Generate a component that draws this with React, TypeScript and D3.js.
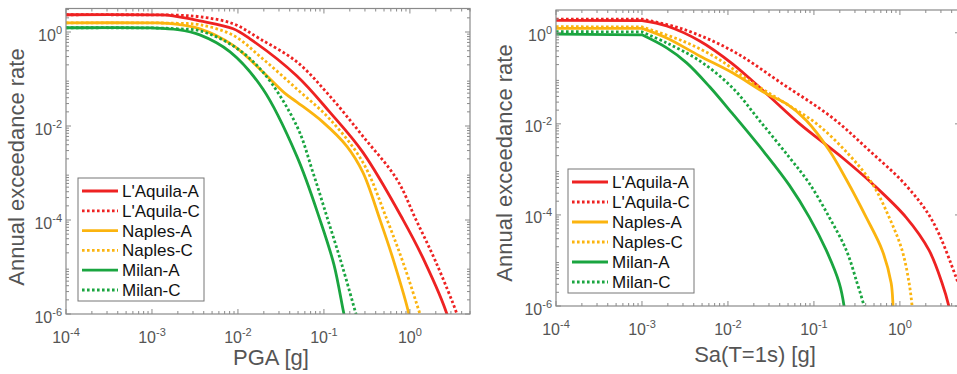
import React from 'react';
import * as d3 from 'd3';

type Pt = [number, number];

// ---------- data ----------
const legendLabels = ["L'Aquila-A", "L'Aquila-C", 'Naples-A', 'Naples-C', 'Milan-A', 'Milan-C'];
const xTickExps = [-4, -3, -2, -1, 0];
const yTickExps = [-6, -4, -2, 0];

// PGA [g] vs annual exceedance rate
const pgaLAquilaA: Pt[] = [[1e-4, 2.33], [1e-3, 2.32], [0.0015, 2.28], [0.0036, 1.73], [0.0088, 1.17], [0.0138, 0.716], [0.0485, 0.116], [0.117, 0.0197], [0.284, 0.00275], [0.83, 0.000102], [1.49, 1.29e-5], [2.69, 1.0e-6], [2.8, 7e-7]];
const pgaLAquilaC: Pt[] = [[1e-4, 2.33], [1e-3, 2.32], [0.002, 2.28], [0.0036, 2.11], [0.0088, 1.5], [0.018, 0.716], [0.0485, 0.231], [0.117, 0.0434], [0.284, 0.00605], [0.706, 0.00073], [1.175, 0.000102], [2.0, 1.29e-5], [3.52, 1.0e-6], [3.7, 7e-7]];
const pgaNaplesA: Pt[] = [[1e-4, 1.57], [1e-3, 1.56], [0.0015, 1.53], [0.0036, 1.17], [0.0088, 0.52], [0.0195, 0.141], [0.035, 0.05], [0.0485, 0.0323], [0.0973, 0.0121], [0.185, 0.0037], [0.284, 0.00103], [0.448, 0.000102], [0.652, 1.29e-5], [0.973, 1.0e-6], [1.0, 7e-7]];
const pgaNaplesC: Pt[] = [[1e-4, 1.57], [1e-3, 1.56], [0.002, 1.53], [0.0036, 1.43], [0.0088, 0.85], [0.0195, 0.267], [0.0485, 0.0611], [0.117, 0.014], [0.284, 0.00168], [0.541, 0.000102], [0.851, 1.11e-5], [1.31, 1.0e-6], [1.4, 7e-7]];
const pgaMilanA: Pt[] = [[1e-4, 1.23], [1e-3, 1.22], [0.002, 1.12], [0.0036, 0.87], [0.0081, 0.378], [0.0195, 0.0611], [0.0485, 0.00226], [0.0898, 0.000102], [0.131, 1.11e-5], [0.171, 1.0e-6], [0.18, 7e-7]];
const pgaMilanC: Pt[] = [[1e-4, 1.23], [1e-3, 1.22], [0.002, 1.17], [0.0036, 1.06], [0.0088, 0.507], [0.0195, 0.141], [0.0485, 0.0099], [0.0745, 0.00103], [0.111, 0.000102], [0.162, 1.11e-5], [0.236, 1.0e-6], [0.25, 7e-7]];

// Sa(T=1s) [g] vs annual exceedance rate
const saLAquilaA: Pt[] = [[1e-4, 1.88], [1e-3, 1.85], [0.00194, 1.41], [0.00469, 0.662], [0.0113, 0.208], [0.0281, 0.0458], [0.0678, 0.0101], [0.213, 0.00182], [0.475, 0.00049], [1.18, 8.85e-5], [2.18, 1.68e-5], [3.09, 3.19e-6], [3.73, 9.5e-7], [3.9, 6e-7]];
const saLAquilaC: Pt[] = [[1e-4, 2.0], [1e-3, 2.0], [0.00297, 1.21], [0.0113, 0.4], [0.043, 0.0758], [0.163, 0.0137], [0.44, 0.0026], [1.18, 0.000444], [2.37, 7.6e-5], [4.49, 4.31e-6], [5.6, 1.2e-6]];
const saNaplesA: Pt[] = [[1e-4, 1.25], [1e-3, 1.25], [0.00194, 0.769], [0.00469, 0.31], [0.0113, 0.132], [0.0281, 0.0458], [0.0479, 0.0277], [0.0817, 0.0118], [0.151, 0.0026], [0.238, 0.0006], [0.406, 8.85e-5], [0.622, 1.68e-5], [0.791, 3.19e-6], [0.834, 9.5e-7], [0.85, 6e-7]];
const saNaplesC: Pt[] = [[1e-4, 1.36], [1e-3, 1.34], [0.00297, 0.662], [0.00738, 0.281], [0.0178, 0.0881], [0.043, 0.031], [0.107, 0.0101], [0.25, 0.0022], [0.475, 0.00049], [0.75, 8.85e-5], [1.06, 1.68e-5], [1.28, 3.19e-6], [1.39, 9.5e-7], [1.42, 6e-7]];
const saMilanA: Pt[] = [[1e-4, 0.93], [1e-3, 0.9], [0.00194, 0.465], [0.00331, 0.218], [0.00612, 0.0652], [0.0113, 0.0167], [0.0266, 0.00234], [0.0519, 0.000445], [0.0885, 8.85e-5], [0.139, 1.68e-5], [0.197, 3.19e-6], [0.225, 9.5e-7], [0.23, 6e-7]];
const saMilanC: Pt[] = [[1e-4, 1.06], [1e-3, 1.04], [0.00194, 0.598], [0.00469, 0.242], [0.0113, 0.062], [0.0233, 0.0118], [0.0519, 0.00182], [0.0885, 0.00049], [0.151, 8.85e-5], [0.238, 1.68e-5], [0.318, 3.19e-6], [0.385, 9.5e-7], [0.4, 6e-7]];

const pgaSeries = [pgaLAquilaA, pgaLAquilaC, pgaNaplesA, pgaNaplesC, pgaMilanA, pgaMilanC];
const saSeries = [saLAquilaA, saLAquilaC, saNaplesA, saNaplesC, saMilanA, saMilanC];

// ---------- styles ----------
const COLORS = ['#ee2222', '#ee2222', '#fbb40f', '#fbb40f', '#1aa540', '#1aa540'];
const DOTTED = [false, true, false, true, false, true];
const FONT = "'Liberation Sans', Arial, Helvetica, sans-serif";
const AXIS_COLOR = '#8a8a8a';
const TEXT_COLOR = '#555555';
const LINE_W = 2.8;
const DOT = '2.6 2.4';
const X_DOMAIN: [number, number] = [1e-4, 5];
const Y_DOMAIN: [number, number] = [1e-6, Math.sqrt(10)];

type PanelProps = {
  id: string;
  x0: number; x1: number; yT: number; yB: number;
  series: Pt[][];
  xTitle: string; xTitleX: number; xTitleY: number;
  yTitleX: number; yTitleY: number;
  legend: { x: number; y: number; w: number; h: number; row0: number; step: number; lx0: number; lx1: number; tx: number };
  cornerAtSecond: boolean;
};

function Panel(p: PanelProps) {
  const xs = d3.scaleLog().domain(X_DOMAIN).range([p.x0, p.x1]);
  const ys = d3.scaleLog().domain(Y_DOMAIN).range([p.yB, p.yT]);
  const line = d3.line<Pt>().x(d => xs(d[0])).y(d => ys(d[1])).curve(d3.curveCatmullRom.alpha(0.5));
  const makePath = (pts: Pt[]) => {
    if (p.cornerAtSecond) {
      const rest = line(pts.slice(1)) || '';
      return `M${xs(pts[0][0])},${ys(pts[0][1])}L` + rest.slice(1);
    }
    return line(pts) || '';
  };

  const xMinor: number[] = [];
  for (let e = -4; e <= 0; e++) for (let m = 2; m <= 9; m++) { const v = m * Math.pow(10, e); if (v <= X_DOMAIN[1]) xMinor.push(v); }
  const yMinor: number[] = [];
  for (let e = -6; e <= 0; e++) for (let m = 2; m <= 9; m++) { const v = m * Math.pow(10, e); if (v <= Y_DOMAIN[1]) yMinor.push(v); }

  const tickEls: React.ReactNode[] = [];
  xTickExps.forEach((e, i) => {
    const x = xs(Math.pow(10, e));
    tickEls.push(<line key={'xM' + i} x1={x} x2={x} y1={p.yB} y2={p.yB - 5} />);
    tickEls.push(<line key={'xMt' + i} x1={x} x2={x} y1={p.yT} y2={p.yT + 5} />);
  });
  xMinor.forEach((v, i) => {
    const x = xs(v);
    tickEls.push(<line key={'xm' + i} x1={x} x2={x} y1={p.yB} y2={p.yB - 3} />);
    tickEls.push(<line key={'xmt' + i} x1={x} x2={x} y1={p.yT} y2={p.yT + 3} />);
  });
  yTickExps.forEach((e, i) => {
    const y = ys(Math.pow(10, e));
    tickEls.push(<line key={'yM' + i} x1={p.x0} x2={p.x0 + 5} y1={y} y2={y} />);
    tickEls.push(<line key={'yMr' + i} x1={p.x1} x2={p.x1 - 5} y1={y} y2={y} />);
  });
  yMinor.forEach((v, i) => {
    const y = ys(v);
    tickEls.push(<line key={'ym' + i} x1={p.x0} x2={p.x0 + 3} y1={y} y2={y} />);
    tickEls.push(<line key={'ymr' + i} x1={p.x1} x2={p.x1 - 3} y1={y} y2={y} />);
  });

  const L = p.legend;
  return (
    <g>
      <defs>
        <clipPath id={p.id + '-clip'}>
          <rect x={p.x0} y={p.yT} width={p.x1 - p.x0} height={p.yB - p.yT} />
        </clipPath>
      </defs>
      <rect x={p.x0} y={p.yT} width={p.x1 - p.x0} height={p.yB - p.yT} fill="#ffffff" />
      <g clipPath={`url(#${p.id}-clip)`}>
        {p.series.map((s, i) => (
          <path key={i} d={makePath(s)} fill="none" stroke={COLORS[i]} strokeWidth={LINE_W}
            strokeDasharray={DOTTED[i] ? DOT : undefined} />
        ))}
      </g>
      <g stroke={AXIS_COLOR} strokeWidth={1}>{tickEls}</g>
      <rect x={p.x0} y={p.yT} width={p.x1 - p.x0} height={p.yB - p.yT} fill="none" stroke={AXIS_COLOR} strokeWidth={1.2} />
      {/* x tick labels */}
      {xTickExps.map((e, i) => (
        <text key={'xl' + i} x={xs(Math.pow(10, e))} y={p.yB + 29} textAnchor="middle" fontFamily={FONT} fontSize={16} fill={TEXT_COLOR}>
          10<tspan dy={-7} fontSize={11}>{String(e)}</tspan>
        </text>
      ))}
      {/* y tick labels */}
      {yTickExps.map((e, i) => (
        <text key={'yl' + i} x={p.x0 - 4} y={ys(Math.pow(10, e)) + 8.5} textAnchor="end" fontFamily={FONT} fontSize={16} fill={TEXT_COLOR}>
          10<tspan dy={-7} fontSize={11}>{String(e)}</tspan>
        </text>
      ))}
      <text x={p.xTitleX} y={p.xTitleY} textAnchor="middle" fontFamily={FONT} fontSize={22} fill={TEXT_COLOR}>{p.xTitle}</text>
      <text transform={`translate(${p.yTitleX},${p.yTitleY}) rotate(-90)`} textAnchor="middle" fontFamily={FONT} fontSize={22} fill={TEXT_COLOR}>Annual exceedance rate</text>
      {/* legend */}
      <rect x={L.x} y={L.y} width={L.w} height={L.h} fill="#ffffff" stroke="#777777" strokeWidth={1} />
      {legendLabels.map((lab, i) => {
        const y = L.row0 + i * L.step;
        return (
          <g key={'lg' + i}>
            <line x1={L.lx0} x2={L.lx1} y1={y} y2={y} stroke={COLORS[i]} strokeWidth={LINE_W} strokeDasharray={DOTTED[i] ? DOT : undefined} />
            <text x={L.tx} y={y + 6} fontFamily={FONT} fontSize={17} fill="#111111">{lab}</text>
          </g>
        );
      })}
    </g>
  );
}

export default function App() {
  return (
    <svg width={957} height={374} viewBox="0 0 957 374" style={{ position: 'absolute', left: 0, top: 0, background: '#ffffff' }}>
      <rect x={0} y={0} width={957} height={374} fill="#ffffff" />
      <Panel id="pga" x0={66} x1={470} yT={8.5} yB={314} series={pgaSeries}
        xTitle="PGA [g]" xTitleX={271} xTitleY={365} yTitleX={24} yTitleY={167}
        legend={{ x: 78, y: 178, w: 126, h: 123, row0: 191, step: 19.8, lx0: 82, lx1: 118, tx: 122 }}
        cornerAtSecond={false} />
      <Panel id="sa" x0={556} x1={960} yT={10} yB={306} series={saSeries}
        xTitle="Sa(T=1s) [g]" xTitleX={755} xTitleY={362} yTitleX={512} yTitleY={163}
        legend={{ x: 568, y: 169, w: 126, h: 124, row0: 182, step: 20, lx0: 572, lx1: 608, tx: 612 }}
        cornerAtSecond={true} />
    </svg>
  );
}
